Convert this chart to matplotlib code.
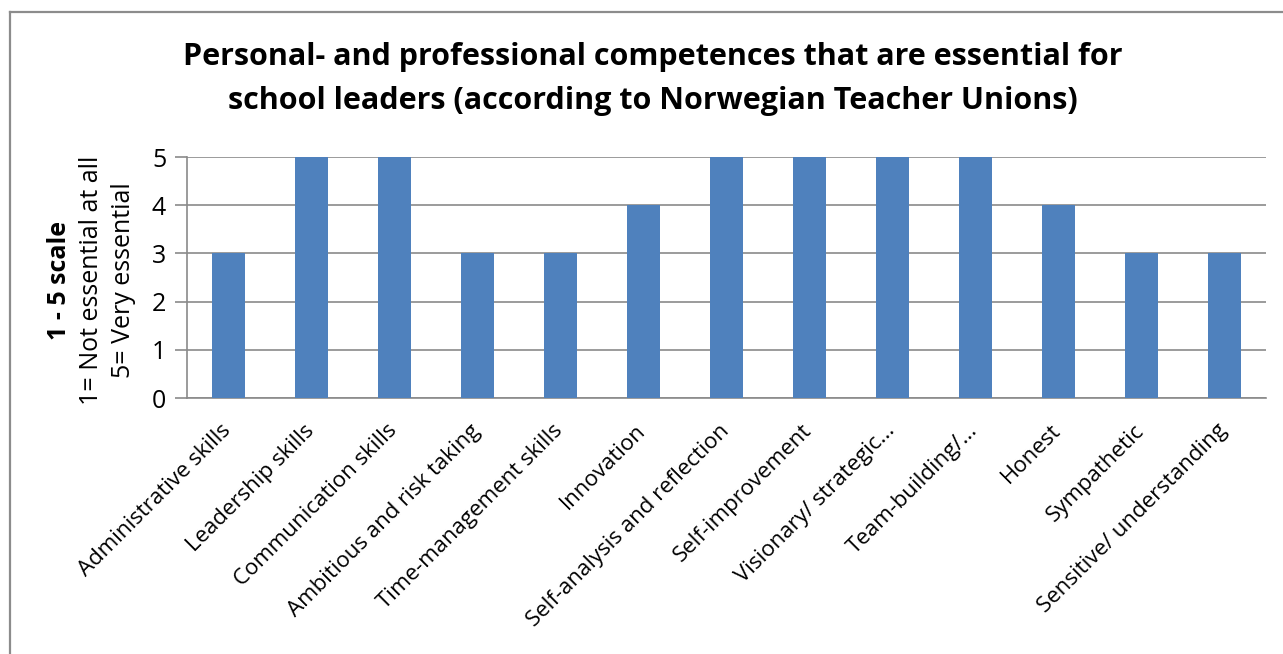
import matplotlib
matplotlib.use("Agg")
import matplotlib.pyplot as plt
from matplotlib.lines import Line2D
from matplotlib.transforms import ScaledTranslation

categories = [
    "Administrative skills", "Leadership skills", "Communication skills",
    "Ambitious and risk taking", "Time-management skills", "Innovation",
    "Self-analysis and reflection", "Self-improvement", "Visionary/ strategic...",
    "Team-building/...", "Honest", "Sympathetic", "Sensitive/ understanding",
]
values = [3, 5, 5, 3, 3, 4, 5, 5, 5, 5, 4, 3, 3]
yticks = [0, 1, 2, 3, 4, 5]
title = ("Personal- and professional competences that are essential for\n"
         "school leaders (according to Norwegian Teacher Unions)")
ylabel_lines = ["1 - 5 scale", "1= Not essential at all", "5= Very essential"]

W, H = 1283, 654
DPI = 100
plt.rcParams['font.family'] = ['Open Sans', 'DejaVu Sans']

fig = plt.figure(figsize=(W / DPI, H / DPI), dpi=DPI)
fig.patch.set_facecolor("white")

# axes placement in pixels
ax_l, ax_r, ax_t, ax_b = 187, 1266, 157, 398
ax = fig.add_axes([ax_l / W, 1 - ax_b / H, (ax_r - ax_l) / W, (ax_b - ax_t) / H])

grid_col = "#8a8a8a"
x = list(range(len(categories)))
ax.bar(x, values, width=0.4, color="#4F81BD", zorder=3)
ax.set_xlim(-0.5, len(categories) - 0.5)
ax.set_ylim(0, 5)
ax.set_yticks(yticks)
ax.set_yticklabels([str(v) for v in yticks], fontsize=18)
ax.set_xticks(x)
ax.set_xticklabels(categories, rotation=45, ha="right", rotation_mode="anchor",
                   fontsize=16)
ax.tick_params(axis="x", length=0, pad=16)
ax.tick_params(axis="y", length=9, color=grid_col, width=1.2, pad=6)
shift = ScaledTranslation(-8 / DPI, 0, fig.dpi_scale_trans)
for lab in ax.get_xticklabels():
    lab.set_transform(lab.get_transform() + shift)
ax.yaxis.grid(True, color=grid_col, linewidth=1.2, zorder=0)
ax.set_axisbelow(True)
for s in ["top", "right"]:
    ax.spines[s].set_visible(False)
for s in ["left", "bottom"]:
    ax.spines[s].set_color(grid_col)
    ax.spines[s].set_linewidth(1.2)

# title
fig.text(653 / W, 1 - 42 / H, title, ha="center", va="top", fontsize=22,
         fontweight="bold", linespacing=1.6)

# y label (three lines)
yc = 1 - 280 / H
fig.text(60 / W, yc, ylabel_lines[0], rotation=90, ha="center", va="center",
         fontsize=18, fontweight="bold")
fig.text(92 / W, yc, ylabel_lines[1], rotation=90, ha="center", va="center",
         fontsize=18)
fig.text(123 / W, yc, ylabel_lines[2], rotation=90, ha="center", va="center",
         fontsize=18)

# chart frame (left and top edges visible)
fx, fy = 9.5 / W, 1 - 12 / H
fig.add_artist(Line2D([fx, fx], [0, fy], transform=fig.transFigure,
                      color="#8c8c8c", linewidth=1.6))
fig.add_artist(Line2D([fx, 1], [fy, fy], transform=fig.transFigure,
                      color="#8c8c8c", linewidth=1.6))

fig.savefig("out.png", dpi=DPI)
